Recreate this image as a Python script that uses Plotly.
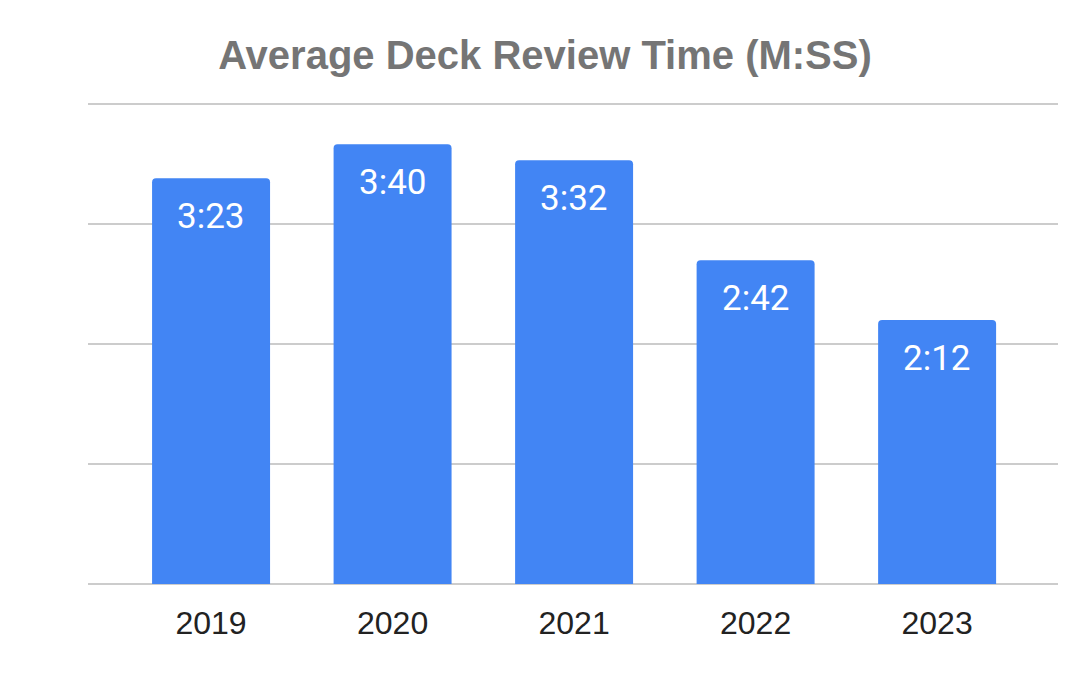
import plotly.graph_objects as go

years = ["2019", "2020", "2021", "2022", "2023"]
seconds = [203, 220, 212, 162, 132]
labels = ["3:23", "3:40", "3:32", "2:42", "2:12"]

BLUE = "#4285F4"
# the page puts the figure 8px in from the top-left corner, so shrink it to fit
OFF = 8
W, H = 1092 - OFF, 674 - OFF

fig = go.Figure(go.Bar(
    x=years, y=seconds,
    marker=dict(color=BLUE, line=dict(width=0)),
    width=0.65,
    hoverinfo="skip",
))

# value labels inside the top of each bar (index positions on the category axis)
for i, (s, lab) in enumerate(zip(seconds, labels)):
    fig.add_annotation(
        x=i, y=s, text=lab, showarrow=False,
        xref="x", yref="y",
        yanchor="top", yshift=-16,
        font=dict(family="Roboto", size=35, color="white"),
    )

fig.update_layout(
    width=W, height=H,
    margin=dict(l=88 - OFF, r=34, t=103 - OFF, b=90),
    paper_bgcolor="white", plot_bgcolor="white",
    barcornerradius=4,
    showlegend=False,
    title=dict(
        text="<b>Average Deck Review Time (M:SS)</b>",
        x=(545 - OFF) / W, xanchor="center", xref="container",
        y=1 - (55 - OFF) / H, yanchor="middle", yref="container",
        font=dict(family="Liberation Sans, Arial", size=40, color="#757575"),
    ),
)
fig.update_xaxes(
    type="category",
    range=[-0.678, 4.666],
    showgrid=False, showline=False, zeroline=False,
    ticks="outside", ticklen=11, tickcolor="rgba(0,0,0,0)",
    tickfont=dict(family="Liberation Sans, Arial", size=32, color="#222222"),
)
fig.update_yaxes(
    range=[0, 240.6], tickvals=[0, 60, 120, 180, 240],
    showgrid=True, gridcolor="#CCCCCC", gridwidth=2,
    zeroline=True, zerolinecolor="#CCCCCC", zerolinewidth=2,
    showticklabels=False, showline=False,
)

fig.write_html("out.html")
